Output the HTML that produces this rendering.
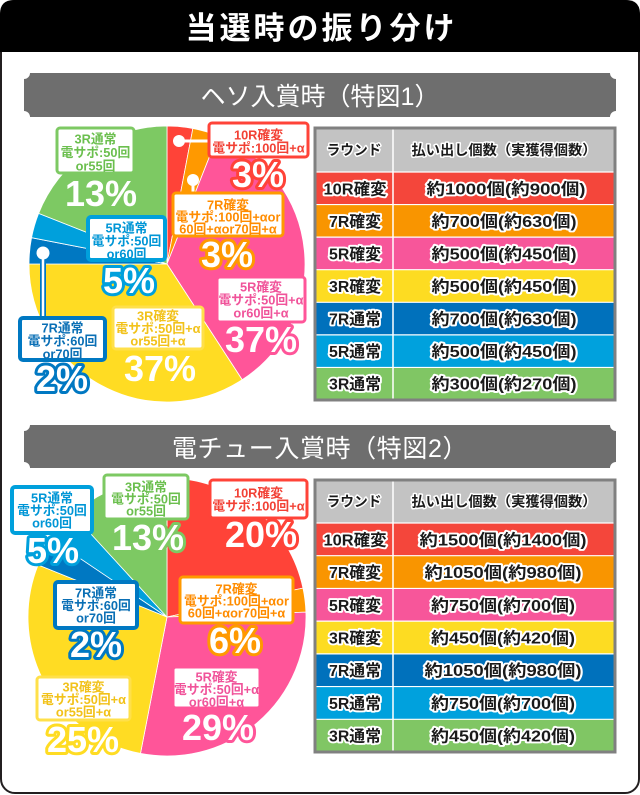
<!DOCTYPE html>
<html><head><meta charset="utf-8"><style>
html,body{margin:0;padding:0;background:#fff;}
svg{display:block;}
text{font-family:"Liberation Sans","Noto Sans CJK JP",sans-serif;}
.bt{font-size:12.8px;font-weight:bold;text-anchor:middle;}
.pc{font-size:36px;font-weight:bold;text-anchor:middle;fill:#fff;stroke-width:6;paint-order:stroke;stroke-linejoin:round;}
.tt{font-size:16px;font-weight:bold;text-anchor:middle;fill:#1a1a1a;stroke:#fff;stroke-width:3.8;paint-order:stroke;stroke-linejoin:round;}
.th{font-size:14px;font-weight:bold;text-anchor:middle;fill:#1a1a1a;stroke:#fff;stroke-width:3;paint-order:stroke;stroke-linejoin:round;}
</style></head><body>
<svg width="640" height="795" viewBox="0 0 640 795" xmlns="http://www.w3.org/2000/svg">
<!-- frame -->
<rect x="1" y="1" width="638" height="792" rx="14" fill="#fff" stroke="#231f20" stroke-width="2"/>
<path d="M0,52 V14 Q0,0 14,0 H626 Q640,0 640,14 V52 Z" fill="#000"/>
<text x="321.5" y="39" font-size="31" font-weight="bold" fill="#fff" text-anchor="middle" letter-spacing="3">当選時の振り分け</text>

<!-- banner 1 -->
<path d="M30,73 H610 A6,6 0 0 0 616,79 V111 A6,6 0 0 0 610,117 H30 A6,6 0 0 0 24,111 V79 A6,6 0 0 0 30,73 Z" fill="#6e6e6e"/>
<text x="320" y="105" font-size="25" fill="#fff" text-anchor="middle">ヘソ入賞時（特図1）</text>

<!-- banner 2 -->
<path d="M30,425 H610 A6,6 0 0 0 616,431 V462 A6,6 0 0 0 610,468 H30 A6,6 0 0 0 24,462 V431 A6,6 0 0 0 30,425 Z" fill="#6e6e6e"/>
<text x="320" y="457" font-size="25" fill="#fff" text-anchor="middle" letter-spacing="0.6">電チュー入賞時（特図2）</text>

<!-- PIE 1 -->
<g stroke="#fff" stroke-width="0.8" stroke-linejoin="round">
<path d="M167,264 L167,126 A138,138 0 0 1 192.86,128.44 Z" fill="#ff4338"/>
<path d="M167,264 L192.86,128.44 A138,138 0 0 1 217.8,135.69 Z" fill="#ff9900"/>
<path d="M167,264 L217.8,135.69 A138,138 0 0 1 242.16,379.74 Z" fill="#ff5599"/>
<path d="M167,264 L242.16,379.74 A138,138 0 0 1 29,264 Z" fill="#ffdc23"/>
<path d="M167,264 L29,264 A138,138 0 0 1 31.54,237.67 Z" fill="#0078c2"/>
<path d="M167,264 L31.54,237.67 A138,138 0 0 1 38.6,213.42 Z" fill="#00a0dc"/>
<path d="M167,264 L38.6,213.42 A138,138 0 0 1 167,126 Z" fill="#7dc963"/>
</g>
<!-- connectors pie1 -->
<line x1="179" y1="141" x2="210" y2="141" stroke="#fff" stroke-width="3"/>
<circle cx="179" cy="141" r="6" fill="#fff"/>
<line x1="193" y1="180" x2="193" y2="194" stroke="#fff" stroke-width="3"/>
<circle cx="193" cy="180" r="6" fill="#fff"/>
<line x1="43" y1="253" x2="43" y2="319" stroke="#0078c2" stroke-width="6"/>
<line x1="43" y1="253" x2="43" y2="319" stroke="#fff" stroke-width="2.5"/>
<circle cx="43" cy="253" r="6.5" fill="#fff"/>

<!-- boxes pie1 -->
<rect x="209" y="123" width="99" height="34" rx="3" fill="#fff" stroke="#ff4338" stroke-width="3"/>
<text class="bt" fill="#f24135"><tspan x="258.5" y="139.5">10R確変</tspan><tspan x="258.5" y="152.5">電サポ:100回+α</tspan></text>

<rect x="173" y="193" width="110" height="43" rx="3" fill="#fff" stroke="#ff9900" stroke-width="3"/>
<text class="bt" fill="#ff8c00"><tspan x="228" y="209.5">7R確変</tspan><tspan x="228" y="221.5">電サポ:100回+αor</tspan><tspan x="228" y="233.5">60回+αor70回+α</tspan></text>

<rect x="217" y="277" width="88" height="45" rx="3" fill="#fff" stroke="#ff5599" stroke-width="3"/>
<text class="bt" fill="#f0539a"><tspan x="261" y="291.5">5R確変</tspan><tspan x="261" y="304.5">電サポ:50回+α</tspan><tspan x="261" y="317.5">or60回+α</tspan></text>

<rect x="113" y="307" width="90" height="42" rx="3" fill="#fff" stroke="#ffe04a" stroke-width="3"/>
<text class="bt" fill="#f2c21a"><tspan x="158" y="320.5">3R確変</tspan><tspan x="158" y="333">電サポ:50回+α</tspan><tspan x="158" y="345.5">or55回+α</tspan></text>

<rect x="20" y="318" width="85" height="42" rx="3" fill="#fff" stroke="#0078c2" stroke-width="4"/>
<text class="bt" fill="#0a6fb5"><tspan x="62.5" y="332.5">7R通常</tspan><tspan x="62.5" y="345.5">電サポ:60回</tspan><tspan x="62.5" y="358.5">or70回</tspan></text>

<rect x="88" y="217" width="77" height="43" rx="3" fill="#fff" stroke="#00a0dc" stroke-width="4"/>
<text class="bt" fill="#0096d6"><tspan x="126.5" y="232.5">5R通常</tspan><tspan x="126.5" y="245.5">電サポ:50回</tspan><tspan x="126.5" y="258.5">or60回</tspan></text>

<rect x="57" y="128" width="77" height="45" rx="3" fill="#fff" stroke="#7dc963" stroke-width="3"/>
<text class="bt" fill="#6bbf4e"><tspan x="95.5" y="143.5">3R通常</tspan><tspan x="95.5" y="157">電サポ:50回</tspan><tspan x="95.5" y="170.5">or55回</tspan></text>

<!-- percents pie1 -->
<text class="pc" x="258" y="187" stroke="#ff4338">3%</text>
<text class="pc" x="227" y="267" stroke="#ff9900">3%</text>
<text class="pc" x="261" y="352" stroke="#ff5599">37%</text>
<text class="pc" x="160" y="381" stroke="#ffdc23">37%</text>
<text class="pc" x="62" y="391" stroke="#0078c2">2%</text>
<text class="pc" x="129" y="293" stroke="#00a0dc">5%</text>
<text class="pc" x="101" y="206" stroke="#7dc963">13%</text>

<!-- PIE 2 -->
<g stroke="#fff" stroke-width="0.8" stroke-linejoin="round">
<path d="M167,617 L167,478 A139,139 0 0 1 302.96,588.1 Z" fill="#ff4338"/>
<path d="M167,617 L302.96,588.1 A139,139 0 0 1 305.92,612.15 Z" fill="#ff9900"/>
<path d="M167,617 L305.92,612.15 A139,139 0 0 1 140.48,753.44 Z" fill="#ff5599"/>
<path d="M167,617 L140.48,753.44 A139,139 0 0 1 38.12,564.93 Z" fill="#ffdc23"/>
<path d="M167,617 L38.12,564.93 A139,139 0 0 1 51.77,539.27 Z" fill="#0078c2"/>
<path d="M167,617 L51.77,539.27 A139,139 0 0 1 73.09,514.52 Z" fill="#00a0dc"/>
<path d="M167,617 L73.09,514.52 A139,139 0 0 1 167,478 Z" fill="#7dc963"/>
</g>

<rect x="210" y="480" width="97" height="38" rx="3" fill="#fff" stroke="#ff4338" stroke-width="3"/>
<text class="bt" fill="#f24135"><tspan x="258.5" y="497.5">10R確変</tspan><tspan x="258.5" y="510.5">電サポ:100回+α</tspan></text>

<rect x="180" y="577" width="113" height="46" rx="3" fill="#fff" stroke="#ff9900" stroke-width="3"/>
<text class="bt" fill="#ff8c00"><tspan x="236.5" y="593.5">7R確変</tspan><tspan x="236.5" y="605.5">電サポ:100回+αor</tspan><tspan x="236.5" y="617.5">60回+αor70回+α</tspan></text>

<rect x="173" y="667" width="87" height="41" rx="3" fill="#fff" stroke="#ff5599" stroke-width="3"/>
<text class="bt" fill="#f0539a"><tspan x="216.5" y="681.5">5R確変</tspan><tspan x="216.5" y="694">電サポ:50回+α</tspan><tspan x="216.5" y="706.5">or60回+α</tspan></text>

<rect x="37" y="677" width="93" height="43" rx="3" fill="#fff" stroke="#ffe04a" stroke-width="3"/>
<text class="bt" fill="#f2c21a"><tspan x="83.5" y="691.5">3R確変</tspan><tspan x="83.5" y="704">電サポ:50回+α</tspan><tspan x="83.5" y="716.5">or55回+α</tspan></text>

<rect x="55" y="582" width="82" height="46" rx="3" fill="#fff" stroke="#0078c2" stroke-width="4"/>
<text class="bt" fill="#0a6fb5"><tspan x="96" y="597.5">7R通常</tspan><tspan x="96" y="610">電サポ:60回</tspan><tspan x="96" y="622.5">or70回</tspan></text>

<rect x="12" y="487" width="80" height="46" rx="3" fill="#fff" stroke="#00a0dc" stroke-width="4"/>
<text class="bt" fill="#0096d6"><tspan x="52" y="502.5">5R通常</tspan><tspan x="52" y="515">電サポ:50回</tspan><tspan x="52" y="527.5">or60回</tspan></text>

<rect x="104" y="475" width="84" height="44" rx="3" fill="#fff" stroke="#7dc963" stroke-width="3"/>
<text class="bt" fill="#6bbf4e"><tspan x="146" y="491.5">3R通常</tspan><tspan x="146" y="503.5">電サポ:50回</tspan><tspan x="146" y="515.5">or55回</tspan></text>

<text class="pc" x="261" y="547" stroke="#ff4338">20%</text>
<text class="pc" x="235" y="653" stroke="#ff9900">6%</text>
<text class="pc" x="218" y="740" stroke="#ff5599">29%</text>
<text class="pc" x="83" y="752" stroke="#ffdc23">25%</text>
<text class="pc" x="96" y="657" stroke="#0078c2">2%</text>
<text class="pc" x="53" y="563" stroke="#00a0dc">5%</text>
<text class="pc" x="148" y="550" stroke="#7dc963">13%</text>

<!-- TABLE 1 -->
<g>
<rect x="315" y="128" width="300" height="44" fill="#c3c3c3"/>
<rect x="315" y="172" width="300" height="32.57" fill="#f4463b"/>
<rect x="315" y="204.57" width="300" height="32.57" fill="#f99500"/>
<rect x="315" y="237.14" width="300" height="32.57" fill="#f7569a"/>
<rect x="315" y="269.71" width="300" height="32.57" fill="#fddc22"/>
<rect x="315" y="302.29" width="300" height="32.57" fill="#0071bc"/>
<rect x="315" y="334.86" width="300" height="32.57" fill="#00a1dd"/>
<rect x="315" y="367.43" width="300" height="32.57" fill="#80c664"/>
<g stroke="#fff" stroke-width="1.2">
<line x1="315" y1="172" x2="615" y2="172"/><line x1="315" y1="204.57" x2="615" y2="204.57"/>
<line x1="315" y1="237.14" x2="615" y2="237.14"/><line x1="315" y1="269.71" x2="615" y2="269.71"/>
<line x1="315" y1="302.29" x2="615" y2="302.29"/><line x1="315" y1="334.86" x2="615" y2="334.86"/>
<line x1="315" y1="367.43" x2="615" y2="367.43"/>
<line x1="393" y1="128" x2="393" y2="400" stroke-width="1.5"/>
</g>
<rect x="315" y="128" width="300" height="272" fill="none" stroke="#808080" stroke-width="3"/>
<text class="th" x="354" y="155" textLength="55" lengthAdjust="spacingAndGlyphs">ラウンド</text>
<text class="th" x="504" y="155" textLength="185" lengthAdjust="spacingAndGlyphs">払い出し個数（実獲得個数）</text>
<text class="tt" x="355" y="194.3" textLength="63" lengthAdjust="spacingAndGlyphs">10R確変</text>
<text class="tt" x="355" y="226.9" textLength="52" lengthAdjust="spacingAndGlyphs">7R確変</text>
<text class="tt" x="355" y="259.4" textLength="52" lengthAdjust="spacingAndGlyphs">5R確変</text>
<text class="tt" x="355" y="292" textLength="52" lengthAdjust="spacingAndGlyphs">3R確変</text>
<text class="tt" x="355" y="324.6" textLength="52" lengthAdjust="spacingAndGlyphs">7R通常</text>
<text class="tt" x="355" y="357.1" textLength="52" lengthAdjust="spacingAndGlyphs">5R通常</text>
<text class="tt" x="355" y="389.7" textLength="52" lengthAdjust="spacingAndGlyphs">3R通常</text>
<text class="tt" x="506" y="194.3" textLength="159" lengthAdjust="spacingAndGlyphs">約1000個(約900個)</text>
<text class="tt" x="504" y="226.9" textLength="145" lengthAdjust="spacingAndGlyphs">約700個(約630個)</text>
<text class="tt" x="504" y="259.4" textLength="145" lengthAdjust="spacingAndGlyphs">約500個(約450個)</text>
<text class="tt" x="504" y="292" textLength="145" lengthAdjust="spacingAndGlyphs">約500個(約450個)</text>
<text class="tt" x="504" y="324.6" textLength="145" lengthAdjust="spacingAndGlyphs">約700個(約630個)</text>
<text class="tt" x="504" y="357.1" textLength="145" lengthAdjust="spacingAndGlyphs">約500個(約450個)</text>
<text class="tt" x="504" y="389.7" textLength="145" lengthAdjust="spacingAndGlyphs">約300個(約270個)</text>
</g>

<!-- TABLE 2 -->
<g>
<rect x="315" y="480" width="300" height="43" fill="#c3c3c3"/>
<rect x="315" y="523" width="300" height="32.71" fill="#f4463b"/>
<rect x="315" y="555.71" width="300" height="32.71" fill="#f99500"/>
<rect x="315" y="588.43" width="300" height="32.71" fill="#f7569a"/>
<rect x="315" y="621.14" width="300" height="32.71" fill="#fddc22"/>
<rect x="315" y="653.86" width="300" height="32.71" fill="#0071bc"/>
<rect x="315" y="686.57" width="300" height="32.71" fill="#00a1dd"/>
<rect x="315" y="719.29" width="300" height="32.71" fill="#80c664"/>
<g stroke="#fff" stroke-width="1.2">
<line x1="315" y1="523" x2="615" y2="523"/><line x1="315" y1="555.71" x2="615" y2="555.71"/>
<line x1="315" y1="588.43" x2="615" y2="588.43"/><line x1="315" y1="621.14" x2="615" y2="621.14"/>
<line x1="315" y1="653.86" x2="615" y2="653.86"/><line x1="315" y1="686.57" x2="615" y2="686.57"/>
<line x1="315" y1="719.29" x2="615" y2="719.29"/>
<line x1="393" y1="480" x2="393" y2="752" stroke-width="1.5"/>
</g>
<rect x="315" y="480" width="300" height="272" fill="none" stroke="#808080" stroke-width="3"/>
<text class="th" x="354" y="506.5" textLength="55" lengthAdjust="spacingAndGlyphs">ラウンド</text>
<text class="th" x="504" y="506.5" textLength="185" lengthAdjust="spacingAndGlyphs">払い出し個数（実獲得個数）</text>
<text class="tt" x="355" y="545.4" textLength="63" lengthAdjust="spacingAndGlyphs">10R確変</text>
<text class="tt" x="355" y="578.1" textLength="52" lengthAdjust="spacingAndGlyphs">7R確変</text>
<text class="tt" x="355" y="610.8" textLength="52" lengthAdjust="spacingAndGlyphs">5R確変</text>
<text class="tt" x="355" y="643.5" textLength="52" lengthAdjust="spacingAndGlyphs">3R確変</text>
<text class="tt" x="355" y="676.2" textLength="52" lengthAdjust="spacingAndGlyphs">7R通常</text>
<text class="tt" x="355" y="709" textLength="52" lengthAdjust="spacingAndGlyphs">5R通常</text>
<text class="tt" x="355" y="741.7" textLength="52" lengthAdjust="spacingAndGlyphs">3R通常</text>
<text class="tt" x="503" y="545.4" textLength="167" lengthAdjust="spacingAndGlyphs">約1500個(約1400個)</text>
<text class="tt" x="503" y="578.1" textLength="157" lengthAdjust="spacingAndGlyphs">約1050個(約980個)</text>
<text class="tt" x="503" y="610.8" textLength="144" lengthAdjust="spacingAndGlyphs">約750個(約700個)</text>
<text class="tt" x="503" y="643.5" textLength="144" lengthAdjust="spacingAndGlyphs">約450個(約420個)</text>
<text class="tt" x="503" y="676.2" textLength="157" lengthAdjust="spacingAndGlyphs">約1050個(約980個)</text>
<text class="tt" x="503" y="709" textLength="144" lengthAdjust="spacingAndGlyphs">約750個(約700個)</text>
<text class="tt" x="503" y="741.7" textLength="144" lengthAdjust="spacingAndGlyphs">約450個(約420個)</text>
</g>
</svg>
</body></html>
